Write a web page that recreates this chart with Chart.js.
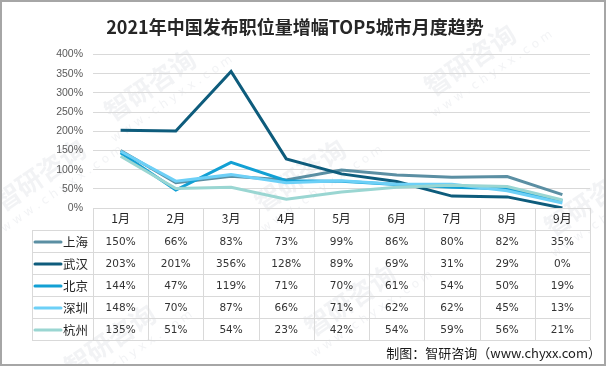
<!DOCTYPE html>
<html><head><meta charset="utf-8">
<script src="https://cdn.jsdelivr.net/npm/chart.js@4/dist/chart.umd.min.js"></script>
<style>html,body{margin:0;padding:0;background:#fff}#wrap{width:606px;height:366px;position:relative}</style>
</head><body><div id="wrap"><canvas id="c" width="606" height="366"></canvas></div>
<script>
const months = ['1月','2月','3月','4月','5月','6月','7月','8月','9月'];
const seriesNames = ['上海','武汉','北京','深圳','杭州'];
const shanghai = [150,66,83,73,99,86,80,82,35];
const wuhan    = [203,201,356,128,89,69,31,29,0];
const beijing  = [144,47,119,71,70,61,54,50,19];
const shenzhen = [148,70,87,66,71,62,62,45,13];
const hangzhou = [135,51,54,23,42,54,59,56,21];
const seriesValues = [shanghai, wuhan, beijing, shenzhen, hangzhou];
const seriesColors = ['#5B8FA3','#0E5C7C','#12A0D4','#6DD0F7','#9AD6D2'];
const yMin = 0, yMax = 400, yStep = 50;
const titleText = '2021年中国发布职位量增幅TOP5城市月度趋势';
const footerText = '制图：智研咨询（www.chyxx.com）';

const FONT = '"DejaVu Sans","Noto Sans CJK SC",sans-serif';
const CJK = '"Noto Sans CJK SC","DejaVu Sans",sans-serif';

const tablePlugin = {
  id: 'tbl',
  beforeDraw(chart) {
    const ctx = chart.ctx;
    ctx.save();
    ctx.fillStyle = 'rgba(150,160,175,0.12)';
    const marks = [[150,85],[470,60],[40,175],[300,175],[110,340],[350,300],[590,200]];
    marks.forEach(([x,y]) => {
      ctx.save(); ctx.translate(x,y); ctx.rotate(-0.6);
      ctx.font = 'bold 26px ' + CJK; ctx.textAlign='center'; ctx.textBaseline='middle';
      ctx.fillText('智研咨询', 0, 0);
      ctx.font = '12px ' + FONT;
      ctx.fillText('w w w . c h y x x . c o m', 10, 24);
      ctx.restore();
    });
    ctx.restore();
  },
  afterDraw(chart) {
    const ctx = chart.ctx, ca = chart.chartArea, xs = chart.scales.x;
    const n = months.length;
    const cw = (ca.right - ca.left) / n;
    const top = Math.round(ca.bottom), axisH = 22, rowH = 22;
    const rows = seriesValues.length;
    const bottom = top + axisH + rows * rowH;
    const legL = 32;
    ctx.save();
    ctx.strokeStyle = '#d9d9d9'; ctx.lineWidth = 1;
    ctx.beginPath();
    for (let r = 0; r <= rows + 1; r++) {
      const y = (r === 0 ? top : top + axisH + (r - 1) * rowH) + 0.5;
      ctx.moveTo(r === 0 ? ca.left : legL, y); ctx.lineTo(ca.right, y);
    }
    for (let i = 0; i <= n; i++) {
      const x = Math.round(ca.left + i * cw) + 0.5;
      ctx.moveTo(x, top); ctx.lineTo(x, bottom);
    }
    ctx.moveTo(legL + 0.5, top + axisH); ctx.lineTo(legL + 0.5, bottom);
    ctx.stroke();
    ctx.textBaseline = 'middle';
    for (let r = 0; r < rows; r++) {
      const yc = top + axisH + r * rowH + rowH / 2 + 1;
      ctx.strokeStyle = seriesColors[r]; ctx.lineWidth = 3; ctx.lineCap = 'round';
      ctx.beginPath(); ctx.moveTo(35, yc); ctx.lineTo(61, yc); ctx.stroke();
      ctx.fillStyle = '#262626'; ctx.font = '12.5px ' + CJK; ctx.textAlign = 'left';
      ctx.fillText(seriesNames[r], 63, yc);
      ctx.font = '10.5px ' + FONT; ctx.textAlign = 'center'; ctx.fillStyle = '#333';
      seriesValues[r].forEach((v, i) => {
        ctx.fillText(v + '%', xs.getPixelForValue(i), yc);
      });
    }
    ctx.font = '13px ' + CJK; ctx.textAlign = 'right'; ctx.fillStyle = '#1a1a1a';
    ctx.fillText(footerText, 601, 353);
    ctx.strokeStyle = '#a6a6a6'; ctx.lineWidth = 2;
    ctx.strokeRect(1, 1, 604, 364);
    ctx.restore();
  }
};

new Chart(document.getElementById('c'), {
  type: 'line',
  data: {
    labels: months,
    datasets: seriesNames.map((name, i) => ({
      label: name,
      data: seriesValues[i],
      borderColor: seriesColors[i],
      backgroundColor: seriesColors[i],
      borderWidth: 3,
      pointRadius: 0,
      tension: 0,
      fill: false,
      order: 5 - i
    }))
  },
  options: {
    responsive: false,
    animation: false,
    layout: { padding: { left: 0, right: 16, top: 0, bottom: 136 } },
    plugins: {
      legend: { display: false },
      tooltip: { enabled: false },
      title: {
        display: true, text: titleText, color: '#262626',
        font: { family: CJK, size: 18, weight: 'bold' },
        padding: { top: 16, bottom: 17 }
      }
    },
    scales: {
      x: {
        offset: true,
        grid: { display: false, drawTicks: false },
        border: { color: '#d9d9d9' },
        ticks: { color: '#262626', font: { family: CJK, size: 12 }, padding: 3 },
        afterFit(s) { s.height = 22; }
      },
      y: {
        min: yMin, max: yMax,
        ticks: { stepSize: yStep, color: '#595959', font: { family: '"Liberation Sans",sans-serif', size: 10.5 }, callback: v => v + '%', padding: 10 },
        grid: { color: '#d9d9d9', drawTicks: false },
        border: { display: false },
        afterFit(s) { s.width = 93; }
      }
    }
  },
  plugins: [tablePlugin]
});
</script>
</body></html>
